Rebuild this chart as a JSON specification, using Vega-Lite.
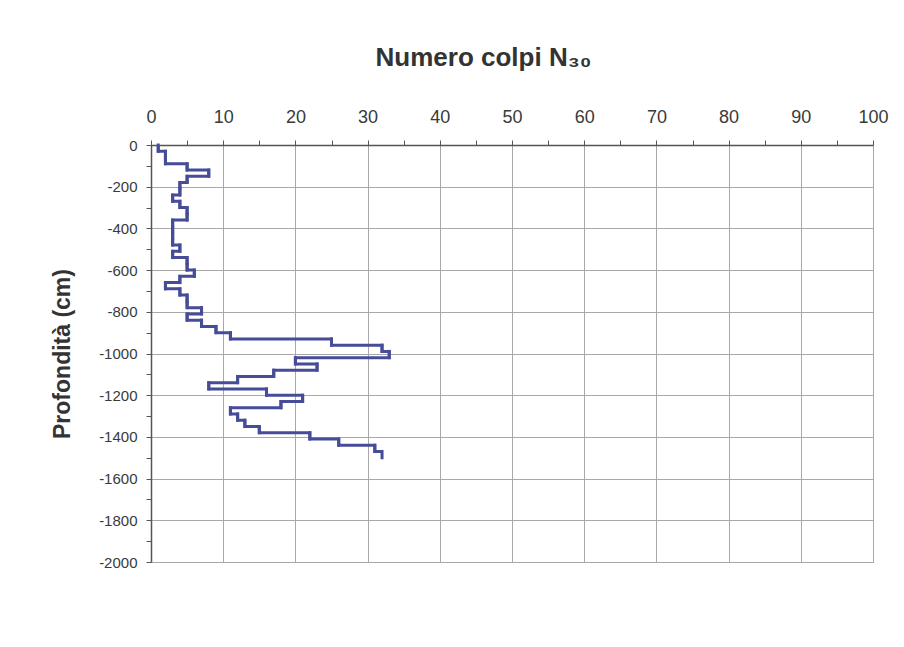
{
  "$schema": "https://vega.github.io/schema/vega-lite/v6.json",
  "width": 722,
  "height": 417,
  "autosize": {"type": "none"},
  "padding": {"left": 151, "top": 145, "right": 31, "bottom": 85},
  "background": "white",
  "config": {
    "font": "Liberation Sans, Arial, DejaVu Sans",
    "view": {"stroke": "#8a8a8a", "strokeWidth": 1}
  },
  "data": {
    "values": [
      {"colpi": 1, "prof_inizio": 0, "prof_fine": -30},
      {"colpi": 2, "prof_inizio": -30, "prof_fine": -60},
      {"colpi": 2, "prof_inizio": -60, "prof_fine": -90},
      {"colpi": 5, "prof_inizio": -90, "prof_fine": -120},
      {"colpi": 8, "prof_inizio": -120, "prof_fine": -150},
      {"colpi": 5, "prof_inizio": -150, "prof_fine": -180},
      {"colpi": 4, "prof_inizio": -180, "prof_fine": -210},
      {"colpi": 4, "prof_inizio": -210, "prof_fine": -240},
      {"colpi": 3, "prof_inizio": -240, "prof_fine": -270},
      {"colpi": 4, "prof_inizio": -270, "prof_fine": -300},
      {"colpi": 5, "prof_inizio": -300, "prof_fine": -330},
      {"colpi": 5, "prof_inizio": -330, "prof_fine": -360},
      {"colpi": 3, "prof_inizio": -360, "prof_fine": -390},
      {"colpi": 3, "prof_inizio": -390, "prof_fine": -420},
      {"colpi": 3, "prof_inizio": -420, "prof_fine": -450},
      {"colpi": 3, "prof_inizio": -450, "prof_fine": -480},
      {"colpi": 4, "prof_inizio": -480, "prof_fine": -510},
      {"colpi": 3, "prof_inizio": -510, "prof_fine": -540},
      {"colpi": 5, "prof_inizio": -540, "prof_fine": -570},
      {"colpi": 5, "prof_inizio": -570, "prof_fine": -600},
      {"colpi": 6, "prof_inizio": -600, "prof_fine": -630},
      {"colpi": 4, "prof_inizio": -630, "prof_fine": -660},
      {"colpi": 2, "prof_inizio": -660, "prof_fine": -690},
      {"colpi": 4, "prof_inizio": -690, "prof_fine": -720},
      {"colpi": 5, "prof_inizio": -720, "prof_fine": -750},
      {"colpi": 5, "prof_inizio": -750, "prof_fine": -780},
      {"colpi": 7, "prof_inizio": -780, "prof_fine": -810},
      {"colpi": 5, "prof_inizio": -810, "prof_fine": -840},
      {"colpi": 7, "prof_inizio": -840, "prof_fine": -870},
      {"colpi": 9, "prof_inizio": -870, "prof_fine": -900},
      {"colpi": 11, "prof_inizio": -900, "prof_fine": -930},
      {"colpi": 25, "prof_inizio": -930, "prof_fine": -960},
      {"colpi": 32, "prof_inizio": -960, "prof_fine": -990},
      {"colpi": 33, "prof_inizio": -990, "prof_fine": -1020},
      {"colpi": 20, "prof_inizio": -1020, "prof_fine": -1050},
      {"colpi": 23, "prof_inizio": -1050, "prof_fine": -1080},
      {"colpi": 17, "prof_inizio": -1080, "prof_fine": -1110},
      {"colpi": 12, "prof_inizio": -1110, "prof_fine": -1140},
      {"colpi": 8, "prof_inizio": -1140, "prof_fine": -1170},
      {"colpi": 16, "prof_inizio": -1170, "prof_fine": -1200},
      {"colpi": 21, "prof_inizio": -1200, "prof_fine": -1230},
      {"colpi": 18, "prof_inizio": -1230, "prof_fine": -1260},
      {"colpi": 11, "prof_inizio": -1260, "prof_fine": -1290},
      {"colpi": 12, "prof_inizio": -1290, "prof_fine": -1320},
      {"colpi": 13, "prof_inizio": -1320, "prof_fine": -1350},
      {"colpi": 15, "prof_inizio": -1350, "prof_fine": -1380},
      {"colpi": 22, "prof_inizio": -1380, "prof_fine": -1410},
      {"colpi": 26, "prof_inizio": -1410, "prof_fine": -1440},
      {"colpi": 31, "prof_inizio": -1440, "prof_fine": -1470},
      {"colpi": 32, "prof_inizio": -1470, "prof_fine": -1500}
    ]
  },
  "encoding": {
    "x": {
      "field": "colpi",
      "type": "quantitative",
      "scale": {"domain": [0, 100], "nice": false, "zero": true},
      "axis": {
        "orient": "top",
        "title": "Numero colpi N₃₀",
        "titleFontSize": 26,
        "titleFontWeight": "bold",
        "titleColor": "#333333",
        "titlePadding": 38,
        "titleX": 332,
        "values": [0, 5, 10, 15, 20, 25, 30, 35, 40, 45, 50, 55, 60, 65, 70, 75, 80, 85, 90, 95, 100],
        "labelExpr": "datum.value % 10 === 0 ? datum.label : ''",
        "labelFontSize": 18,
        "labelColor": "#3a3a3a",
        "labelPadding": 14,
        "labelFlush": false,
        "labelOverlap": false,
        "tickSize": 5,
        "tickColor": "#555555",
        "domainColor": "#555555",
        "domainWidth": 1.5,
        "gridColor": "#a8a8a8",
        "gridWidth": 1,
        "gridOpacity": {"condition": {"test": "datum.value % 10 === 0", "value": 1}, "value": 0}
      }
    },
    "y": {
      "field": "prof_inizio",
      "type": "quantitative",
      "scale": {"domain": [-2000, 0], "nice": false},
      "axis": {
        "title": "Profondità (cm)",
        "titleFontSize": 23,
        "titleFontWeight": "bold",
        "titleColor": "#333333",
        "titlePadding": 24,
        "values": [0, -100, -200, -300, -400, -500, -600, -700, -800, -900, -1000, -1100, -1200, -1300, -1400, -1500, -1600, -1700, -1800, -1900, -2000],
        "labelExpr": "datum.value % 200 === 0 ? '' + datum.value : ''",
        "labelFontSize": 15,
        "labelColor": "#3a3a3a",
        "labelPadding": 9,
        "labelFlush": false,
        "labelOverlap": false,
        "tickSize": 5,
        "tickColor": "#555555",
        "domainColor": "#555555",
        "domainWidth": 1.5,
        "gridColor": "#a8a8a8",
        "gridWidth": 1,
        "gridOpacity": {"condition": {"test": "datum.value % 200 === 0", "value": 1}, "value": 0}
      }
    }
  },
  "layer": [
    {
      "mark": {
        "type": "line",
        "interpolate": "step-before",
        "color": "#474c98",
        "strokeWidth": 3,
        "strokeJoin": "miter"
      },
      "encoding": {
        "order": {"field": "prof_inizio", "type": "quantitative", "sort": "descending"}
      }
    },
    {
      "mark": {
        "type": "rule",
        "color": "#474c98",
        "strokeWidth": 3,
        "strokeCap": "square"
      },
      "encoding": {
        "y2": {"field": "prof_fine"}
      }
    }
  ]
}
